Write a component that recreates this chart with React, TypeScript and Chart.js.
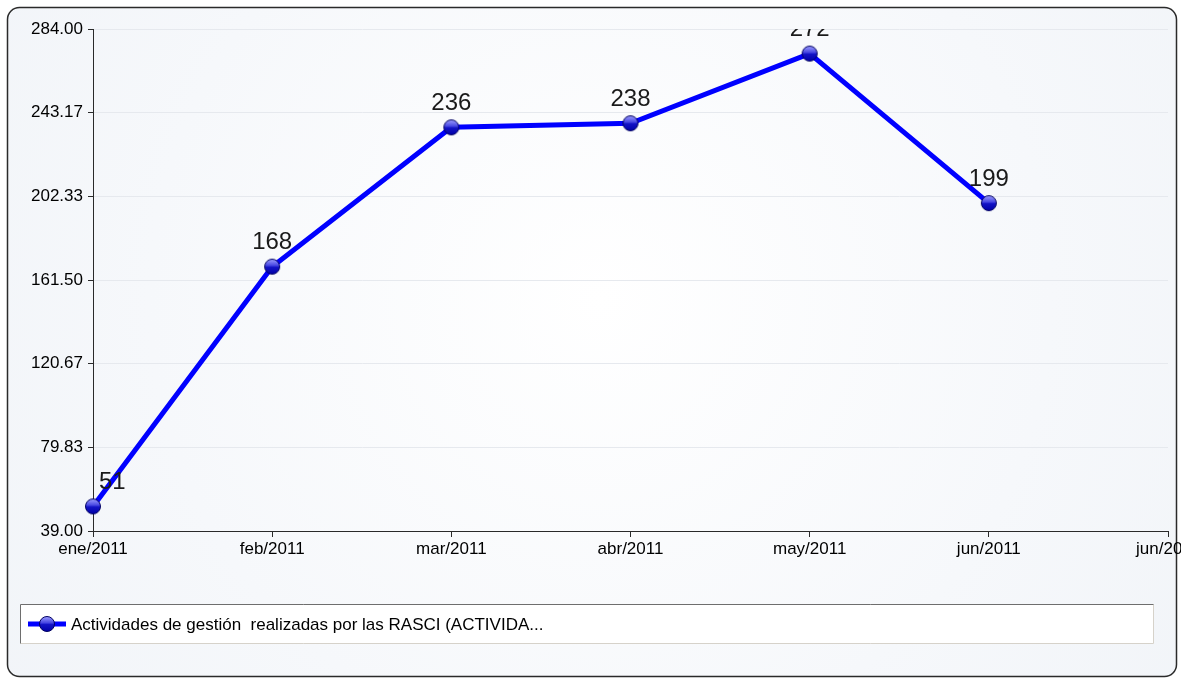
import React, { useEffect, useRef } from "react";
import { Chart, registerables } from "chart.js";

Chart.register(...registerables);

const categories = ["ene/2011", "feb/2011", "mar/2011", "abr/2011", "may/2011", "jun/2011", "jun/2011"];
const seriesLabel = "Actividades de gestión  realizadas por las RASCI (ACTIVIDA...";
const values = [51, 168, 236, 238, 272, 199];
const yTicks = [39.0, 79.83, 120.67, 161.5, 202.33, 243.17, 284.0];

const W = 1181;
const H = 679;
const FONT = "'Liberation Sans', Arial, sans-serif";

function makePointImage(): HTMLCanvasElement {
  const c = document.createElement("canvas");
  c.width = 18;
  c.height = 18;
  const g = c.getContext("2d")!;
  const r = 7.5;
  g.beginPath();
  g.arc(9, 9, r, 0, Math.PI * 2);
  const grad = g.createLinearGradient(0, 1.5, 0, 16.5);
  grad.addColorStop(0, "#a0a0ff");
  grad.addColorStop(0.45, "#4040e0");
  grad.addColorStop(0.5, "#1515c8");
  grad.addColorStop(1, "#0000a8");
  g.fillStyle = grad;
  g.fill();
  g.lineWidth = 1;
  g.strokeStyle = "#000060";
  g.stroke();
  return c;
}

export default function App() {
  const ref = useRef<HTMLCanvasElement | null>(null);

  useEffect(() => {
    const canvas = ref.current!;
    const pointImg = makePointImage();

    const background = {
      id: "panelBg",
      beforeDraw(chart: any) {
        const ctx = chart.ctx;
        ctx.save();
        ctx.fillStyle = "#ffffff";
        ctx.fillRect(0, 0, W, H);
        const x = 7.5, y = 7.5, w = 1169, h = 669, r = 12;
        ctx.beginPath();
        ctx.roundRect(x, y, w, h, r);
        const grad = ctx.createRadialGradient(600, 300, 0, 600, 300, 750);
        grad.addColorStop(0, "#ffffff");
        grad.addColorStop(0.6, "#f6f8fb");
        grad.addColorStop(1, "#f1f4f8");
        ctx.fillStyle = grad;
        ctx.fill();
        ctx.lineWidth = 1.5;
        ctx.strokeStyle = "#2a2a2a";
        ctx.stroke();
        ctx.restore();
      },
    };

    const dataLabels = {
      id: "dataLabels",
      afterDatasetsDraw(chart: any) {
        const ctx = chart.ctx;
        const area = chart.chartArea;
        const meta = chart.getDatasetMeta(0);
        ctx.save();
        ctx.beginPath();
        ctx.rect(area.left, area.top, area.right - area.left, area.bottom - area.top);
        ctx.clip();
        ctx.font = `24px ${FONT}`;
        ctx.fillStyle = "#1a1a1a";
        ctx.textAlign = "center";
        ctx.textBaseline = "middle";
        meta.data.forEach((pt: any, i: number) => {
          const txt = String(chart.data.datasets[0].data[i]);
          const tw = ctx.measureText(txt).width;
          const x = Math.max(pt.x, area.left + tw / 2 + 6);
          ctx.fillText(txt, x, pt.y - 24);
        });
        ctx.restore();
      },
    };

    const legendBox = {
      id: "legendBox",
      afterDraw(chart: any) {
        const ctx = chart.ctx;
        ctx.save();
        const x = 20.5, y = 604.5, w = 1133, h = 39;
        ctx.fillStyle = "#ffffff";
        ctx.fillRect(x, y, w, h);
        ctx.lineWidth = 1;
        ctx.strokeStyle = "#d6d2ca";
        ctx.beginPath();
        ctx.moveTo(x + w, y);
        ctx.lineTo(x + w, y + h);
        ctx.lineTo(x, y + h);
        ctx.stroke();
        ctx.strokeStyle = "#6e6e6e";
        ctx.beginPath();
        ctx.moveTo(x, y + h);
        ctx.lineTo(x, y);
        ctx.lineTo(x + w, y);
        ctx.stroke();
        const cy = 624;
        ctx.strokeStyle = "#0000ff";
        ctx.lineWidth = 5;
        ctx.beginPath();
        ctx.moveTo(28, cy);
        ctx.lineTo(66, cy);
        ctx.stroke();
        ctx.drawImage(pointImg, 47 - 9, cy - 9);
        ctx.font = `17px ${FONT}`;
        ctx.fillStyle = "#000000";
        ctx.textAlign = "left";
        ctx.textBaseline = "middle";
        ctx.fillText(chart.data.datasets[0].label, 71, cy + 1);
        ctx.restore();
      },
    };

    const chart = new Chart(canvas, {
      type: "line",
      data: {
        labels: categories,
        datasets: [
          {
            label: seriesLabel,
            data: values,
            borderColor: "#0000ff",
            borderWidth: 5,
            pointStyle: pointImg as any,
            pointRadius: 8,
            tension: 0,
            fill: false,
          },
        ],
      },
      options: {
        responsive: false,
        animation: false,
        layout: { padding: { left: 0, top: 29, right: 12, bottom: 108 } },
        plugins: {
          legend: { display: false },
          tooltip: { enabled: false },
        },
        scales: {
          x: {
            type: "category",
            offset: false,
            grid: {
              drawOnChartArea: false,
              drawTicks: true,
              tickLength: 6,
              tickColor: "#2a2a2a",
            },
            border: { color: "#2a2a2a", width: 1 },
            ticks: {
              font: { family: FONT, size: 17 },
              color: "#000000",
              padding: 2,
              maxRotation: 0,
              autoSkip: false,
            },
            afterFit(scale: any) {
              scale.paddingLeft = 0;
              scale.paddingRight = 0;
              scale.height = 40;
            },
          },
          y: {
            type: "linear",
            min: 39,
            max: 284,
            afterBuildTicks(scale: any) {
              scale.ticks = yTicks.map((v) => ({ value: v }));
            },
            grid: {
              color: "#e6e9ee",
              tickColor: "#2a2a2a",
              tickLength: 5,
            },
            border: { color: "#2a2a2a", width: 1 },
            ticks: {
              font: { family: FONT, size: 17 },
              color: "#000000",
              padding: 5,
              callback: (v: any) => Number(v).toFixed(2),
            },
            afterFit(scale: any) {
              scale.width = 93;
            },
          },
        },
      },
      plugins: [background, dataLabels, legendBox],
    });

    return () => chart.destroy();
  }, []);

  return (
    <canvas
      ref={ref}
      width={W}
      height={H}
      style={{ position: "fixed", left: 0, top: 0, width: W, height: H, display: "block" }}
    />
  );
}
